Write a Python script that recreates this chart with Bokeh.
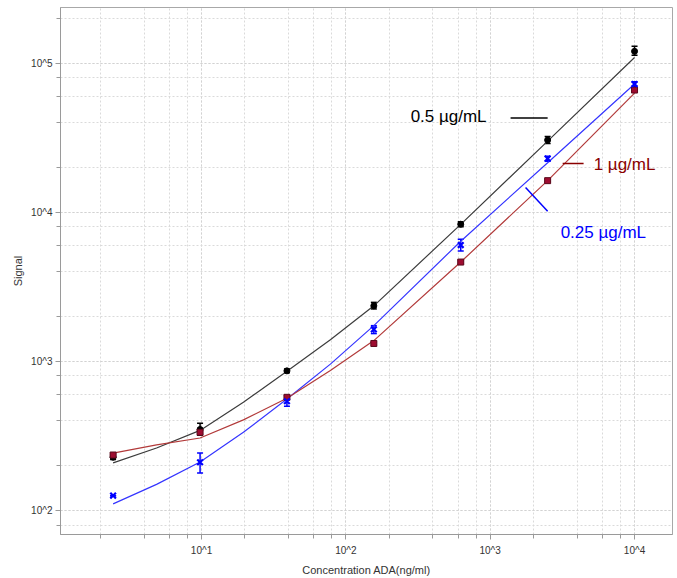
import numpy as np
from bokeh.plotting import figure
from bokeh.models import (ColumnDataSource, Whisker, Range1d, LogTicker,
                          CustomJSTickFormatter, Label)
from bokeh.embed import file_html
from bokeh.resources import INLINE

# ---- data ----
conc = [2.44, 9.77, 39.06, 156.25, 625, 2500, 10000]

black_mean = [228, 350, 865, 2360, 8320, 30500, 120000]
black_lo = [220, 320, 840, 2250, 8000, 28900, 113000]
black_hi = [236, 385, 890, 2490, 8650, 32200, 129800]

red_mean = [236, 335, 575, 1320, 4640, 16300, 66000]
red_lo = [230, 325, 560, 1290, 4550, 16000, 64500]
red_hi = [242, 345, 590, 1350, 4730, 16600, 67500]

blue_mean = [126, 211, 541, 1640, 6030, 22900, 72400]
blue_lo = [126, 179, 501, 1538, 5500, 22000, 70000]
blue_hi = [126, 243, 593, 1738, 6600, 23800, 75000]

# fitted curves
fit_x = [2.44, 4.88, 9.77, 19.5, 39.06, 78.1, 156.25, 625, 2500, 10000]
fit_black = [209, 263, 345, 533, 860, 1400, 2360, 8300, 30000, 109000]
fit_red = [243, 276, 307, 406, 567, 870, 1380, 4640, 16300, 63000]
fit_blue = [111, 150, 212, 335, 560, 960, 1740, 6400, 21500, 72400]

series_labels = ["0.5 µg/mL", "1 µg/mL", "0.25 µg/mL"]

x_title = "Concentration ADA(ng/ml)"
y_title = "Signal"

p = figure(width=677, height=578, x_axis_type="log", y_axis_type="log",
           x_range=Range1d(10 ** 0.0229, 10 ** 4.263),
           y_range=Range1d(10 ** 1.84, 10 ** 5.373),
           output_backend="svg", toolbar_location=None,
           min_border_left=60, min_border_right=5, min_border_top=7,
           min_border_bottom=41)
p.background_fill_color = "white"
p.border_fill_color = "white"
p.outline_line_color = "#a8a8a8"
p.outline_line_width = 1

for ax in (p.xaxis[0], p.yaxis[0]):
    ax.ticker = LogTicker(desired_num_ticks=4)
    ax.formatter = CustomJSTickFormatter(code="return '10^' + Math.round(Math.log10(tick));")
    ax.axis_line_color = "#9a9a9a"
    ax.major_tick_line_color = "#9a9a9a"
    ax.minor_tick_line_color = "#9a9a9a"
    ax.major_tick_out = 5
    ax.major_tick_in = 0
    ax.minor_tick_out = 4
    ax.minor_tick_in = 0
    ax.major_label_text_font = "Liberation Sans"
    ax.major_label_text_font_size = "10px"
    ax.major_label_text_color = "#333333"
    ax.axis_label_text_font = "Liberation Sans"
    ax.axis_label_text_font_size = "11px"
    ax.axis_label_text_font_style = "normal"
    ax.axis_label_text_color = "#333333"
    ax.major_label_standoff = 3

p.xaxis.axis_label = x_title
p.xaxis.major_label_standoff = 5
p.xaxis.axis_label_standoff = 5
p.yaxis.axis_label = y_title
p.yaxis.axis_label_standoff = 4
p.yaxis.major_label_orientation = "horizontal"

for g in (p.xgrid[0], p.ygrid[0]):
    g.grid_line_color = "#d2d2d2"
    g.grid_line_dash = "2 2"
    g.minor_grid_line_color = "#dadada"
    g.minor_grid_line_dash = "2 2"

c_black_line = "#3c3c3c"
c_red_line = "#b23a3a"
c_blue_line = "#3535ff"
c_black = "#000000"
c_red = "#9e0c30"
c_blue = "#0000ff"

p.line(fit_x, fit_black, line_color=c_black_line, line_width=1.2)
p.line(fit_x, fit_blue, line_color=c_blue_line, line_width=1.2)
p.line(fit_x, fit_red, line_color=c_red_line, line_width=1.2)

def errbars(lo, hi, color):
    src = ColumnDataSource(dict(x=conc, lower=lo, upper=hi))
    w = Whisker(source=src, base="x", lower="lower", upper="upper",
                dimension="height", line_color=color, line_width=1.5)
    w.upper_head.size = 6
    w.lower_head.size = 6
    w.upper_head.line_color = color
    w.lower_head.line_color = color
    w.upper_head.line_width = 1.5
    w.lower_head.line_width = 1.5
    p.add_layout(w)

errbars(black_lo, black_hi, c_black)
errbars(blue_lo, blue_hi, c_blue)
errbars(red_lo, red_hi, c_red)

p.scatter(conc, black_mean, marker="circle", size=6, fill_color=c_black, line_color=c_black)
p.scatter(conc, red_mean, marker="square", size=6, fill_color=c_red, line_color="#5a0a1c")
p.scatter(conc, blue_mean, marker="x", size=8, line_color=c_blue, line_width=2.2)

# annotations (positions in data space)
p.add_layout(Label(x=281, y=43650, text=series_labels[0], text_color="#000000",
                   text_font="Liberation Sans", text_font_size="17px",
                   text_baseline="middle", text_align="left"))
p.segment(x0=[1384], y0=[42950], x1=[2500], y1=[42950], line_color="#000000", line_width=1.5)

p.add_layout(Label(x=5210, y=20900, text=series_labels[1], text_color="#8a0000",
                   text_font="Liberation Sans", text_font_size="17px",
                   text_baseline="middle", text_align="left"))
p.segment(x0=[3177], y0=[21220], x1=[4436], y1=[21220], line_color="#8a0000", line_width=1.5)

p.add_layout(Label(x=3076, y=7360, text=series_labels[2], text_color="#0000ff",
                   text_font="Liberation Sans", text_font_size="17px",
                   text_baseline="middle", text_align="left"))
p.segment(x0=[1758], y0=[14680], x1=[2500], y1=[10160], line_color="#0000ff", line_width=1.5)

open("out.html", "w").write(file_html(p, INLINE))
